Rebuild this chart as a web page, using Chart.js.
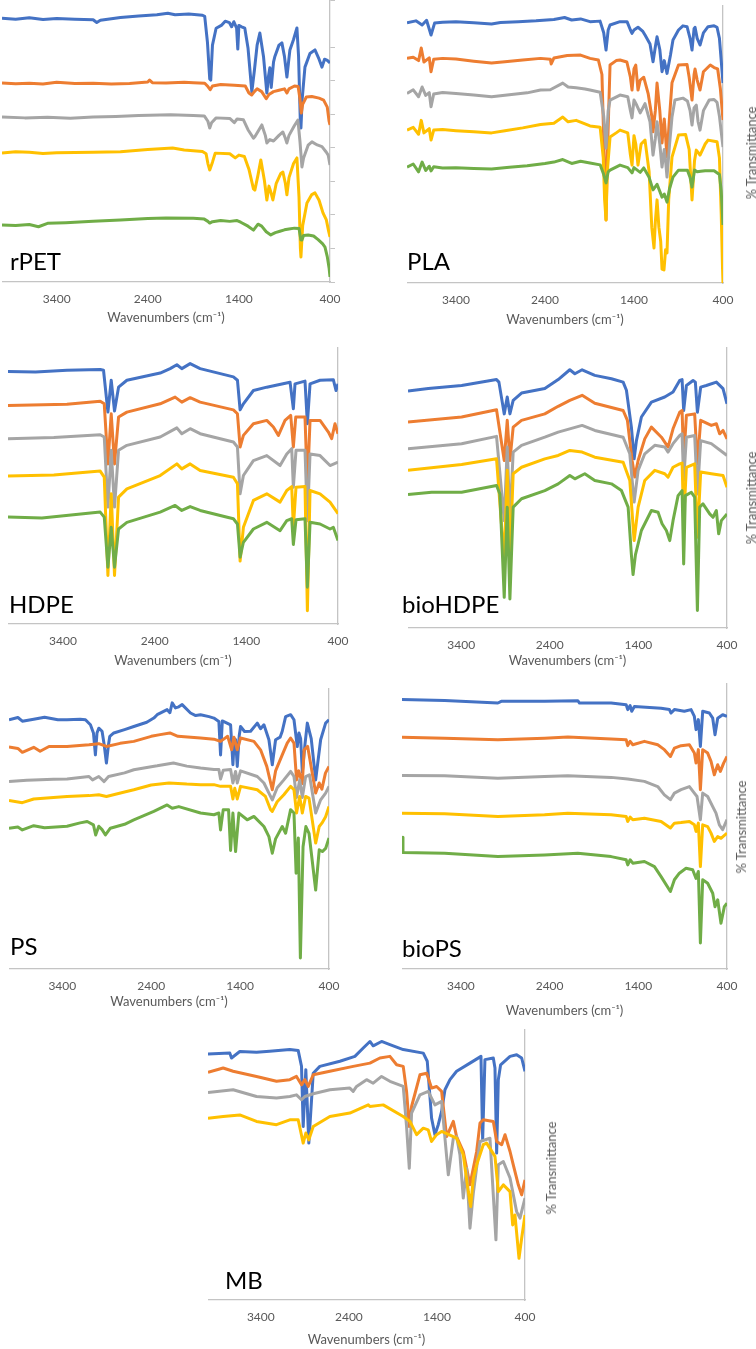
<!DOCTYPE html>
<html>
<head>
<meta charset="utf-8">
<script src="https://cdn.jsdelivr.net/npm/chart.js@4.4.1/dist/chart.umd.min.js"></script>
<style>
  body { margin: 0; background: #fff; width: 756px; height: 1349px; position: relative; overflow: hidden; }
  canvas { position: absolute; }
  .name { position: absolute; font-family: Lato, "Noto Sans", sans-serif; font-size: 24px; line-height: 24px; color: #000; white-space: nowrap; }
  .ytitle { position: absolute; font-family: Lato, "Noto Sans", sans-serif; font-size: 13px; color: #595959; white-space: nowrap;
            transform: translate(-50%, -50%) rotate(-90deg); }
</style>
</head>
<body>
<script>
const FONT = 'Lato, "Noto Sans", sans-serif';
const COLORS = ["#4472C4", "#ED7D31", "#A5A5A5", "#FFC000", "#70AD47"];
const AXIS = "#C4C4C4";
const WN_TICKS = [3400, 2400, 1400, 400];

// ---- rPET ----
const rPET_blue = [[4000,93.5],[3850,93.2],[3700,93.7],[3550,93.1],[3400,93.4],[3200,93.2],[3000,93.0],[2960,92.0],[2920,92.8],[2700,93.8],[2500,94.3],[2300,94.8],[2180,95.3],[2100,94.8],[1950,95.0],[1800,94.6],[1775,94.2],[1745,85],[1720,72],[1709,71.6],[1690,84],[1650,90],[1588,91.1],[1550,92.5],[1505,92.0],[1480,90.5],[1455,92.3],[1425,90],[1412,82.6],[1400,91],[1370,90.5],[1335,90],[1300,83],[1258,67.4],[1230,75],[1200,84],[1170,88.3],[1130,80],[1093,67],[1075,73],[1060,76],[1045,69],[1020,78],[1005,80],[960,84],[928,84.8],[900,80],[873,72.7],[855,78],[840,82.3],[800,86],[763,90.1],[745,80],[725,56],[719,54.6],[705,65],[675,76.2],[620,81],[565,82.3],[520,79],[488,76.2],[460,79],[433,78.7],[400,77.7]];
const rPET_orange = [[4000,70.6],[3850,70.3],[3700,70.5],[3550,70.2],[3400,70.8],[3200,70.4],[3000,70.5],[2800,70.2],[2600,70.4],[2400,70.9],[2380,71.6],[2350,70.7],[2200,70.6],[2000,70.8],[1900,70.7],[1775,70.5],[1740,69.3],[1715,68.2],[1690,69.5],[1600,70],[1450,69.8],[1330,69.5],[1290,67],[1260,66.3],[1230,67.5],[1200,68.5],[1150,67.5],[1100,65],[1070,66.5],[1020,67.5],[960,68],[900,68.5],[873,67],[850,68.5],[790,69.5],[750,69.3],[730,65],[715,59.9],[700,63],[660,65.6],[600,65.8],[520,65.2],[470,64.5],[430,62],[410,57],[400,55.7]];
const rPET_gray = [[4000,58.5],[3750,58.2],[3500,58.4],[3250,58.1],[3000,58.5],[2750,58.7],[2500,59.0],[2150,59.3],[1900,59.0],[1780,58.9],[1740,57],[1720,54.6],[1700,56.5],[1650,58.2],[1500,58],[1450,56.5],[1420,57.8],[1350,57.5],[1300,54],[1240,51],[1225,51.5],[1148,55.7],[1110,52],[1093,49.3],[1060,50.5],[1020,50],[960,52],[917,53.2],[890,51],[873,49.3],[850,52],[790,55.5],[752,57.4],[730,50],[708,40.8],[690,44],[640,48.5],[598,49.7],[540,48.6],[488,48],[440,46],[420,45],[400,41.5]];
const rPET_yellow = [[4000,45.7],[3850,46.2],[3700,46.0],[3550,45.6],[3400,45.8],[3000,46.0],[2700,46.2],[2400,47.0],[2127,47.5],[2000,46.8],[1800,46.3],[1760,45.5],[1740,42],[1720,39.7],[1690,42.5],[1660,45.7],[1500,45.5],[1440,44],[1400,45],[1340,44.5],[1290,40],[1240,33],[1225,32.6],[1190,38],[1159,43.3],[1120,36],[1093,29.1],[1070,34],[1050,32],[1027,29.1],[990,35],[940,38.5],[917,39],[890,35],[873,30.9],[850,37],[800,42],[763,44],[740,30],[725,12],[719,8.9],[700,20],[653,28],[600,31],[565,31.6],[520,29],[477,24.5],[440,22],[415,18],[400,16]];
const rPET_green = [[4000,20.2],[3850,20.0],[3700,20.4],[3600,19.6],[3500,20.8],[3300,21.0],[3000,21.5],[2700,22.0],[2400,22.5],[2200,22.7],[1900,22.6],[1780,22.3],[1740,21.5],[1720,20.9],[1690,21.4],[1600,21.8],[1500,21.5],[1420,21.8],[1380,21.2],[1300,19.8],[1240,18.4],[1190,20.5],[1150,19.8],[1100,17.8],[1050,16.7],[1000,17.5],[950,18],[900,18.5],[850,18.8],[790,19.1],[740,19],[720,15],[708,14.9],[690,16.5],[640,16.7],[580,16.3],[530,15],[480,13.5],[455,12.4],[430,9],[410,5],[400,1.8]];

// ---- PLA ----
const PLA_blue = [[3950,93.6],[3850,94.3],[3780,92.8],[3730,94.5],[3680,89.2],[3640,93.5],[3550,93.8],[3400,94.0],[3200,93.6],[3000,93.2],[2900,93.7],[2700,94.0],[2500,94.3],[2300,94.8],[2180,95.5],[2100,94.6],[2000,95.0],[1894,94.0],[1781,94.2],[1740,90],[1714,83.8],[1690,91],[1669,92.8],[1557,94],[1478,94],[1440,91],[1422,89.8],[1400,91],[1355,92],[1300,90.5],[1276,89.2],[1220,86],[1186,79.6],[1160,85],[1141,88.6],[1110,84],[1085,76],[1060,80],[1029,75.4],[990,82],[962,87.4],[900,91],[850,92.5],[804,92.2],[770,88],[748,83.8],[725,91.5],[714,92],[690,88],[658,85.6],[620,90],[568,92.2],[500,92.5],[467,92],[440,88],[420,80],[400,71.9]];
const PLA_orange = [[3950,80.8],[3880,81.2],[3820,80],[3790,84.5],[3760,79.5],[3700,81],[3680,76],[3650,80.5],[3550,80.8],[3400,80.6],[3200,79.8],[3000,79.1],[2850,79.6],[2650,80.2],[2450,80.8],[2340,80.5],[2330,78.8],[2300,80.9],[2150,81.8],[2000,82.0],[1894,80.8],[1800,80.2],[1760,75],[1730,40],[1714,22.7],[1700,45],[1669,78.4],[1600,80],[1557,80.2],[1480,79.5],[1440,74],[1422,69.4],[1400,77],[1380,78.4],[1355,69.4],[1330,73],[1290,74],[1240,68],[1200,60],[1186,54.4],[1160,62],[1141,71.9],[1110,62],[1085,50.4],[1060,59],[1050,55],[1029,45.3],[1000,60],[973,72],[900,78.4],[804,78.6],[780,74],[748,65.8],[725,75],[714,77],[690,73],[658,69.4],[620,76],[543,78.4],[500,77.5],[460,77],[430,70],[400,58.6]];
const PLA_gray = [[3950,68.2],[3880,69.5],[3820,67],[3780,70.5],[3740,67.5],[3700,68.5],[3680,63.4],[3650,68],[3550,68.5],[3400,68.2],[3200,67.6],[3000,67.0],[2850,67.5],[2600,68.4],[2450,69.4],[2340,69.5],[2200,71.9],[2140,70.5],[2050,70.2],[1950,69.8],[1894,69.4],[1780,68.6],[1740,60],[1714,48.5],[1690,62],[1669,65.8],[1557,67.6],[1470,67],[1440,62],[1422,59.4],[1400,65.8],[1370,64],[1330,61.2],[1276,64.5],[1220,58],[1186,46],[1160,52],[1141,58],[1110,50],[1085,41.7],[1060,48],[1045,44],[1029,38.1],[1000,50],[973,59.7],[940,65.8],[850,66.5],[800,65.5],[770,62],[748,56.8],[725,63],[700,64],[680,58],[658,55],[620,62],[555,65.8],[500,66],[467,65],[440,60],[415,53],[400,48.9]];
const PLA_yellow = [[3950,55],[3880,56],[3820,53.5],[3790,58.5],[3760,54],[3700,55.5],[3680,51.4],[3650,55],[3550,55.2],[3400,54.8],[3200,54.4],[3000,54.0],[2850,54.8],[2650,55.8],[2450,57],[2300,57.5],[2200,59.7],[2140,58],[2050,58.5],[1950,57.2],[1894,56.5],[1780,56],[1745,45],[1730,30],[1714,22.7],[1700,40],[1669,52.5],[1600,54],[1557,55],[1470,54],[1440,46],[1422,42.4],[1400,53],[1380,50],[1355,42.4],[1320,50],[1276,51.4],[1230,40],[1200,20],[1175,12.6],[1160,22],[1141,29.9],[1120,20],[1100,15],[1085,5],[1063,4.7],[1045,12],[1029,10.8],[1010,30],[973,45.3],[900,53.2],[820,53.4],[780,48],[748,29.9],[720,44],[700,47.8],[680,47],[658,46],[600,50],[568,51.4],[500,51],[467,50.8],[440,45],[420,25],[405,5],[400,0]];
const PLA_green = [[3950,41.7],[3880,42.8],[3820,40],[3780,43.5],[3740,40.5],[3700,42],[3680,40.3],[3650,41.8],[3550,41.4],[3400,41.5],[3200,41.2],[3000,41.0],[2800,41.6],[2600,42.2],[2400,43],[2300,43.5],[2200,44.4],[2100,43],[2000,43.8],[1894,43.2],[1780,42.5],[1740,39],[1714,36],[1690,40],[1669,40.6],[1557,42.4],[1470,41.5],[1422,39.6],[1400,41.5],[1330,39.8],[1290,41.4],[1230,38],[1186,33.5],[1141,35.5],[1085,30.9],[1060,32],[1029,29.1],[1000,34],[962,38.1],[900,40.6],[800,40.6],[770,38],[748,34.5],[720,40.6],[690,40],[650,40.2],[600,40.4],[500,40.4],[440,39],[420,33],[400,20.9]];

// ---- HDPE ----
const HDPE_blue = [[4000,91.2],[3700,91.0],[3357,91.6],[2994,91.9],[2958,91.6],[2910,76.5],[2874,88.0],[2838,76.9],[2794,85.5],[2703,88.0],[2340,90.6],[2231,92.2],[2158,93.6],[2104,92.2],[2013,94.0],[1904,92.2],[1541,89.2],[1497,88.0],[1468,77.3],[1432,79.5],[1323,84.3],[1177,85.5],[923,87.3],[887,77.7],[869,86.7],[760,87.7],[734,72.3],[705,86.7],[596,88.0],[451,88.2],[422,84.3],[400,86.7]];
const HDPE_orange = [[4000,78.9],[3357,79.3],[2994,80.4],[2950,79.5],[2910,57.8],[2874,75.9],[2838,57.8],[2794,74.7],[2703,76.5],[2340,79.5],[2177,81.9],[2104,80.1],[2013,81.7],[1904,80.1],[1541,77.3],[1497,75.9],[1468,63.9],[1432,68.1],[1323,72.3],[1177,73.5],[1105,71.1],[1050,68.1],[978,73.5],[916,75.3],[887,63.9],[861,74.7],[760,74.7],[734,49.4],[705,73.5],[596,73.5],[505,69.3],[469,66.9],[433,72.3],[400,68.7]];
const HDPE_gray = [[4000,66.9],[3500,67.3],[2994,68.3],[2950,67.5],[2910,42.2],[2874,62.7],[2838,42.2],[2794,62.7],[2703,64.5],[2340,67.5],[2158,70.8],[2104,68.7],[2013,70.5],[1904,68.7],[1541,65.7],[1497,63.9],[1468,47.0],[1432,53.6],[1323,59.0],[1177,60.8],[1032,57.2],[959,61.4],[905,63.3],[887,49.4],[858,62.7],[760,62.7],[734,37.3],[705,61.4],[596,60.8],[487,57.2],[400,58.4]];
const HDPE_yellow = [[4000,53.4],[3500,53.8],[2994,55.2],[2950,53.0],[2910,17.5],[2874,47.0],[2838,17.5],[2794,45.8],[2703,48.8],[2340,53.6],[2158,57.8],[2104,56.0],[2013,57.8],[1904,55.4],[1541,53.0],[1497,50.6],[1468,22.7],[1432,34.9],[1323,44.6],[1177,47.0],[1032,44.0],[959,48.2],[905,49.6],[887,34.9],[858,49.4],[760,49.6],[734,4.8],[705,48.2],[596,47.0],[487,44.0],[400,39.8]];
const HDPE_green = [[4000,38.6],[3630,38.3],[2994,40.4],[2950,38.6],[2910,20.5],[2874,34.9],[2838,20.5],[2794,34.3],[2703,36.7],[2340,40.4],[2177,42.8],[2104,41.0],[2013,42.4],[1904,41.0],[1541,38.0],[1497,36.1],[1468,24.1],[1432,29.5],[1323,34.3],[1177,36.7],[1032,33.7],[959,37.3],[905,38.0],[887,28.7],[858,37.6],[760,38.0],[734,13.3],[705,36.7],[596,36.1],[487,34.3],[451,34.9],[400,30.1]];

// ---- bioHDPE ----
const bioHDPE_blue = [[4000,84.3],[3771,85.2],[3395,86.3],[3001,88.4],[2974,87.5],[2914,76.2],[2880,82.2],[2850,76.2],[2813,81.0],[2719,83.6],[2456,85.2],[2305,88.4],[2174,91.9],[2117,90.5],[2035,91.9],[1892,89.9],[1704,88.7],[1572,87.5],[1535,84.6],[1479,71.5],[1448,60.2],[1422,66.7],[1366,75.1],[1253,80.4],[1103,82.2],[1009,84.0],[934,88.1],[907,88.4],[889,77.4],[858,86.3],[783,88.1],[757,87.5],[734,76.8],[697,85.7],[633,86.3],[520,87.5],[445,85.2],[400,79.8]];
const bioHDPE_orange = [[4000,73.3],[3395,75.1],[3001,77.7],[2914,59.6],[2880,73.9],[2850,59.6],[2813,71.5],[2719,73.9],[2456,76.2],[2305,78.9],[2174,81.0],[2035,82.8],[1892,80.0],[1572,77.4],[1524,73.9],[1471,59.6],[1441,53.7],[1403,59.6],[1328,67.3],[1253,71.5],[1140,67.9],[1065,64.4],[1009,70.9],[934,76.8],[907,77.4],[889,59.6],[858,75.7],[765,76.2],[734,58.4],[697,73.9],[577,72.1],[520,72.7],[483,69.1],[445,70.3],[400,67.3]];
const bioHDPE_gray = [[4000,63.8],[3395,65.6],[3001,68.2],[2914,38.2],[2880,64.4],[2850,38.2],[2813,62.6],[2719,65.0],[2456,67.9],[2305,69.7],[2035,72.1],[1892,70.3],[1572,67.9],[1497,62.0],[1448,44.8],[1403,56.1],[1328,62.0],[1215,65.0],[1103,64.4],[1065,62.6],[1009,65.6],[934,68.5],[907,69.1],[889,52.5],[858,67.9],[765,68.5],[734,47.7],[697,66.7],[577,65.6],[400,61.4]];
const bioHDPE_yellow = [[4000,56.1],[3395,58.2],[3001,60.2],[2914,24.0],[2880,56.1],[2850,24.0],[2813,54.9],[2719,57.2],[2456,60.2],[2305,61.4],[2174,63.2],[2035,62.6],[1892,60.8],[1572,59.0],[1497,52.5],[1448,31.1],[1403,43.0],[1328,52.5],[1215,56.1],[1103,54.9],[1065,53.7],[1009,57.2],[934,58.4],[907,58.7],[889,38.2],[858,57.2],[765,58.4],[734,32.3],[697,55.5],[577,54.9],[445,54.3],[400,50.1]];
const bioHDPE_green = [[4000,47.5],[3733,48.3],[3395,48.3],[3001,50.7],[2963,47.7],[2914,10.9],[2880,43.0],[2850,10.3],[2813,43.0],[2719,46.0],[2456,48.9],[2305,51.3],[2174,54.3],[2117,53.1],[2005,54.9],[1892,52.5],[1704,51.3],[1591,48.9],[1516,43.0],[1479,26.1],[1460,19.0],[1433,26.1],[1366,34.7],[1253,41.8],[1178,41.2],[1133,37.1],[1084,34.7],[1046,31.1],[1009,38.2],[952,47.1],[907,48.9],[889,22.8],[870,47.1],[802,48.3],[765,46.6],[734,6.2],[708,43.0],[671,44.2],[595,40.6],[558,39.4],[520,41.8],[494,33.5],[464,38.2],[400,40.6]];

// ---- PS ----
const PS_blue = [[4000,88.7],[3900,89.5],[3850,88.2],[3722,88.9],[3600,89.6],[3450,88.7],[3347,88.7],[3200,88.9],[3140,88.7],[3084,86.9],[3050,84],[3028,76.2],[3010,84],[2990,85.7],[2953,84.6],[2930,80],[2904,73.3],[2880,80],[2866,82.8],[2821,84],[2700,85.2],[2596,86.3],[2450,87.8],[2371,89.3],[2333,90.5],[2221,92.3],[2190,91.2],[2164,94.7],[2127,92.9],[2090,93.3],[2052,94.1],[1958,91.1],[1900,90.2],[1845,90.5],[1750,89.8],[1695,89.3],[1639,88.1],[1620,76.2],[1600,88.3],[1507,86.9],[1481,72.7],[1465,82],[1451,81.6],[1432,72.1],[1410,83],[1395,86.3],[1350,84.5],[1282,84.6],[1207,87.5],[1170,85.5],[1132,86.9],[1076,81.6],[1038,72.7],[1001,81.6],[950,82.5],[926,84.6],[888,89.8],[832,90.5],[794,88.7],[757,79.2],[738,84],[719,82],[700,70],[670,80],[644,87.5],[600,82],[550,67.3],[520,75],[494,81.6],[438,87.5],[400,88.7]];
const PS_orange = [[4000,79],[3900,78.5],[3850,77.1],[3722,78.9],[3650,77.5],[3550,79.2],[3347,79.2],[3100,79.8],[2990,80.2],[2904,79.2],[2750,80.3],[2596,81],[2400,82.8],[2300,83.4],[2190,84],[2100,82.8],[1845,82.2],[1695,81.8],[1620,81],[1540,82.8],[1495,78],[1470,82.5],[1432,78],[1395,82.2],[1245,81],[1170,78],[1100,72.1],[1038,63.8],[1001,70.5],[926,76.2],[870,80.4],[832,82.2],[794,80.4],[765,67.3],[740,70.5],[700,66],[680,78],[640,79.2],[550,62.6],[510,66.2],[480,64],[440,69.7],[400,72.1]];
const PS_gray = [[4000,66.7],[3800,67.2],[3722,67.3],[3500,67.5],[3347,67.6],[3100,68.5],[3060,67.3],[2990,68.5],[2930,66.7],[2880,68.5],[2700,69.8],[2596,70.9],[2400,72],[2333,72.3],[2150,73.3],[2000,72.2],[1845,71.5],[1695,71],[1639,71],[1620,67.6],[1590,70.7],[1507,71],[1481,66.2],[1451,70.3],[1432,66.2],[1395,70.5],[1207,68.5],[1132,66.2],[1076,62.6],[1038,60.2],[983,64.5],[908,67.3],[832,70.3],[794,68.5],[765,61],[730,67.3],[700,61],[663,68.5],[620,69.1],[550,55.5],[494,60.2],[438,62.6],[400,65]];
const PS_yellow = [[4000,60],[3850,59.2],[3722,60.5],[3500,61],[3347,61.4],[3100,61.7],[2990,62],[2904,61.4],[2700,63],[2596,63.8],[2400,65.5],[2200,66.2],[2000,65.8],[1845,65.6],[1695,65.6],[1620,65],[1507,65],[1481,60.5],[1460,64.3],[1432,60.5],[1395,65],[1207,63.8],[1115,61.4],[1057,56.7],[1038,56.1],[983,59.5],[908,62],[832,65],[794,63.8],[765,55.5],[730,61.4],[700,55.5],[663,61.4],[625,60.8],[550,44.8],[510,50.7],[480,51.9],[438,54.2],[400,57.8]];
const PS_green = [[4000,50.1],[3900,50.5],[3850,49.5],[3722,51],[3600,50.3],[3347,50.8],[3200,52],[3120,52.5],[3050,51.3],[3025,47.7],[2990,50.8],[2953,49.6],[2915,47.7],[2860,50.1],[2700,51.5],[2596,53.1],[2371,56.1],[2221,58.4],[2164,57.2],[2090,57.8],[1845,55.5],[1695,54.9],[1639,55.5],[1620,49.5],[1590,56.7],[1530,56.7],[1507,42.2],[1481,55.5],[1451,41.8],[1414,55.5],[1320,53.1],[1245,54.3],[1132,50.7],[1076,47.1],[1038,41.2],[1001,46.3],[926,50.7],[888,48.3],[832,56.7],[794,55.5],[770,34.1],[745,46.6],[722,3.9],[692,43.5],[660,50.7],[625,48.3],[550,28.1],[510,42.4],[475,41.8],[438,42.9],[400,46.6]];

// ---- bioPS ----
const bioPS_blue = [[4064,94.2],[3583,93.9],[2983,93.0],[2945,93.6],[2457,93.6],[2082,93.8],[2063,93.0],[1706,93.0],[1537,92.4],[1519,90.7],[1492,92.1],[1474,90.1],[1444,91.8],[1143,91.2],[1049,90.7],[1031,89.5],[993,90.7],[881,90.1],[805,90.7],[768,88.3],[749,83.7],[723,87.2],[700,77.8],[674,90.1],[599,89.5],[561,87.7],[535,81.9],[505,87.7],[449,88.9],[400,88.3]];
const bioPS_orange = [[4064,81.0],[3583,80.7],[2983,80.2],[2457,80.7],[2194,81.1],[1706,80.4],[1537,80.2],[1519,78.1],[1492,79.6],[1462,78.4],[1331,79.6],[1181,78.4],[1106,76.7],[1038,74.3],[993,77.2],[918,78.1],[824,78.4],[768,75.5],[749,72.0],[723,76.7],[700,62.7],[674,76.7],[618,75.5],[580,72.6],[543,67.9],[505,71.4],[475,69.1],[438,72.0],[400,74.3]];
const bioPS_gray = [[4064,67.7],[3583,67.6],[2983,66.7],[2457,67.3],[2194,67.6],[1706,67.0],[1519,66.4],[1331,65.6],[1181,63.8],[1106,60.9],[1038,59.2],[993,61.5],[918,62.7],[824,63.8],[768,61.5],[738,60.3],[700,52.2],[674,61.5],[618,60.3],[561,56.8],[524,54.5],[486,50.4],[449,48.7],[400,52.2]];
const bioPS_yellow = [[4064,54.5],[3583,54.3],[2983,53.3],[2457,53.9],[2194,54.5],[1706,53.9],[1537,53.3],[1519,51.6],[1492,53.1],[1462,52.2],[1331,52.7],[1143,51.6],[1038,49.3],[993,51.0],[918,51.2],[824,51.6],[768,50.4],[749,48.1],[723,51.0],[700,35.8],[674,50.4],[618,49.8],[580,47.5],[543,44.6],[505,46.3],[468,45.7],[400,47.5]];
const bioPS_green = [[4064,46.1],[4053,40.7],[3583,40.5],[2983,39.3],[2457,39.9],[2082,40.5],[1706,39.3],[1537,38.2],[1519,36.4],[1492,38.2],[1462,37.0],[1331,37.6],[1218,35.8],[1143,32.3],[1038,27.1],[993,31.2],[937,33.5],[862,35.2],[787,34.7],[749,31.7],[723,34.1],[700,9.1],[674,31.2],[618,30.0],[561,26.5],[535,21.8],[505,24.2],[468,16.0],[430,21.8],[400,23.0]];

// ---- MB ----
const MB_blue = [[4000,90.8],[3752,91.1],[3733,89.3],[3639,91.7],[3449,91.4],[3300,91.8],[3071,92.4],[2976,92.1],[2938,86.2],[2919,64.0],[2889,85.0],[2855,57.9],[2805,83.7],[2730,86.2],[2502,88.1],[2332,89.9],[2237,93.0],[2161,95.4],[2124,93.8],[2029,95.4],[1934,94.2],[1783,92.4],[1555,91.1],[1510,88.1],[1461,67.1],[1423,61.0],[1385,64.7],[1347,69.6],[1309,77.6],[1252,81.3],[1177,84.4],[1025,87.4],[900,89.9],[881,59.1],[855,88.7],[760,89.3],[741,85.6],[722,54.2],[703,81.3],[677,86.8],[570,89.9],[495,90.5],[438,89.3],[400,84.4]];
const MB_orange = [[4000,84.0],[3828,85.6],[3715,84.4],[3449,82.5],[3222,80.7],[3071,81.3],[2995,82.5],[2938,79.4],[2900,81.3],[2862,78.8],[2805,83.1],[2616,84.4],[2351,86.2],[2161,87.4],[2048,89.3],[1934,89.9],[1858,86.8],[1783,86.2],[1745,77.0],[1714,64.0],[1688,71.4],[1593,83.1],[1517,83.7],[1461,78.2],[1404,78.8],[1347,77.0],[1290,60.3],[1214,65.9],[1177,60.3],[1101,54.8],[1025,42.5],[949,54.8],[911,65.3],[874,66.5],[760,65.9],[722,58.5],[665,57.3],[627,61.0],[570,54.8],[533,49.9],[476,42.5],[438,38.8],[400,44.3]];
const MB_gray = [[4000,76.6],[3715,77.6],[3449,75.1],[3222,74.5],[3071,75.1],[2995,75.7],[2938,73.9],[2900,75.1],[2805,76.1],[2616,77.6],[2389,78.2],[2351,77.0],[2313,78.8],[2199,81.3],[2124,80.0],[2029,82.5],[1934,80.7],[1783,78.8],[1745,64.0],[1714,48.6],[1688,69.0],[1593,75.7],[1499,77.0],[1423,72.0],[1347,73.3],[1271,46.2],[1214,59.7],[1177,60.3],[1139,53.6],[1101,37.6],[1063,48.6],[1025,26.5],[987,39.4],[911,58.5],[798,59.7],[730,22.2],[703,49.9],[646,51.1],[570,45.0],[495,32.6],[457,30.2],[400,37.6]];
const MB_yellow = [[4000,67.1],[3828,67.7],[3639,68.3],[3449,65.9],[3222,64.7],[3071,66.5],[2976,66.5],[2919,57.9],[2889,61.6],[2855,59.1],[2805,64.0],[2616,67.7],[2389,69.0],[2180,72.0],[2161,71.4],[2010,72.0],[1783,67.7],[1707,65.9],[1631,61.0],[1555,63.4],[1499,62.8],[1461,58.5],[1404,61.0],[1347,62.2],[1177,59.7],[1101,53.6],[1044,40.0],[1017,34.5],[987,45.0],[949,49.9],[874,57.3],[836,57.9],[741,53.0],[703,40.0],[646,42.5],[570,40.0],[540,27.7],[514,31.4],[468,15.4],[438,22.8],[400,31.4]];

// panel layout on the page
const panels = [
  { name: "rPET", series: [rPET_blue, rPET_orange, rPET_gray, rPET_yellow, rPET_green], xMax: 4000,
    box: { left: 2, top: 0, width: 328, height: 282 }, titleGap: 36, yTicks: true, label: [10, 270] },
  { name: "PLA", series: [PLA_blue, PLA_orange, PLA_gray, PLA_yellow, PLA_green], xMax: 3950,
    box: { left: 407, top: 5, width: 316, height: 278 }, titleGap: 37, label: [407, 270], yTitle: [751, 153] },
  { name: "HDPE", series: [HDPE_blue, HDPE_orange, HDPE_gray, HDPE_yellow, HDPE_green], xMax: 4000,
    box: { left: 7.7, top: 346.7, width: 330.3, height: 276.6 }, titleGap: 37, label: [9, 613] },
  { name: "bioHDPE", series: [bioHDPE_blue, bioHDPE_orange, bioHDPE_gray, bioHDPE_yellow, bioHDPE_green], xMax: 4000,
    box: { left: 407.7, top: 346.7, width: 319.3, height: 280.6 }, titleGap: 33, label: [402, 613], yTitle: [751, 498] },
  { name: "PS", series: [PS_blue, PS_orange, PS_gray, PS_yellow, PS_green], xMax: 4000,
    box: { left: 8.7, top: 688.3, width: 319.6, height: 280.7 }, titleGap: 33, label: [10, 955] },
  { name: "bioPS", series: [bioPS_blue, bioPS_orange, bioPS_gray, bioPS_yellow, bioPS_green], xMax: 4064,
    box: { left: 402, top: 683.3, width: 325.3, height: 285.7 }, titleGap: 42, label: [402, 957], yTitle: [741, 827] },
  { name: "MB", series: [MB_blue, MB_orange, MB_gray, MB_yellow], xMax: 4000,
    box: { left: 208.3, top: 1029.3, width: 317, height: 270.7 }, titleGap: 40, label: [225, 1289], yTitle: [551, 1168] }
];

Chart.defaults.font.family = FONT;

panels.forEach(p => {
  const canvas = document.createElement("canvas");
  const axisH = p.titleGap + 8;
  canvas.width = Math.round(p.box.width + 30);
  canvas.height = Math.round(p.box.height + axisH);
  canvas.style.left = p.box.left + "px";
  canvas.style.top = p.box.top + "px";
  document.body.appendChild(canvas);

  new Chart(canvas, {
    type: "line",
    data: {
      datasets: p.series.map((s, i) => ({
        data: s.map(([x, y]) => ({ x, y })),
        borderColor: COLORS[i],
        borderWidth: 3,
        pointRadius: 0,
        tension: 0,
        fill: false,
        order: -i,
        borderJoinStyle: "round"
      }))
    },
    options: {
      responsive: false,
      animation: false,
      devicePixelRatio: 1,
      layout: { padding: 0 },
      plugins: { legend: { display: false }, tooltip: { enabled: false } },
      scales: {
        x: {
          type: "linear",
          reverse: true,
          bounds: "data",
          min: 400,
          max: p.xMax,
          afterBuildTicks: s => { s.ticks = WN_TICKS.map(v => ({ value: v })); },
          afterFit: s => { s.height = axisH; },
          ticks: { autoSkip: false, maxRotation: 0, padding: 10, color: "#595959",
                   font: { size: 12 }, callback: v => String(v) },
          grid: { display: true, drawOnChartArea: false, drawTicks: false },
          border: { display: true, color: AXIS, width: 1.3 },
          title: { display: true, text: "Wavenumbers (cm⁻¹)", color: "#595959", font: { size: 13 }, padding: 0 }
        },
        y: {
          position: "right",
          min: 0,
          max: 100,
          afterFit: s => { s.width = 30; },
          ticks: { display: false, stepSize: p.yTicks ? 11.9 : 20 },
          grid: { display: true, drawOnChartArea: false, drawTicks: !!p.yTicks, tickLength: 5, color: AXIS },
          border: { display: true, color: AXIS, width: 1.3 }
        }
      }
    }
  });

  const lbl = document.createElement("div");
  lbl.className = "name";
  lbl.textContent = p.name;
  lbl.style.left = p.label[0] + "px";
  lbl.style.top = (p.label[1] - 21) + "px";
  document.body.appendChild(lbl);

  if (p.yTitle) {
    const t = document.createElement("div");
    t.className = "ytitle";
    t.textContent = "% Transmittance";
    t.style.left = p.yTitle[0] + "px";
    t.style.top = p.yTitle[1] + "px";
    document.body.appendChild(t);
  }
});
</script>
</body>
</html>
